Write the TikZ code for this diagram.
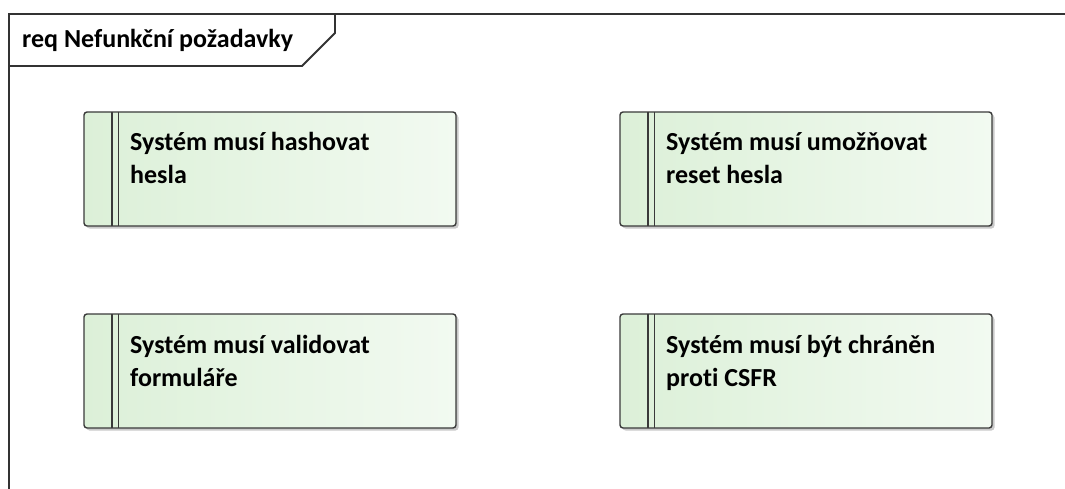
\documentclass[tikz,border=0pt]{standalone}
\usepackage{fontspec}
\setmainfont{Carlito}[Ligatures={NoCommon,NoRare,NoDiscretionary}]
\usetikzlibrary{shadows}
\definecolor{frameline}{HTML}{333333}
\definecolor{reqleft}{HTML}{DCF0D8}
\definecolor{reqright}{HTML}{F2FAF1}
\definecolor{reqline}{HTML}{3A3A3A}
\tikzset{
  reqbox/.style={draw=reqline, line width=1.4pt, rounded corners=3pt,
    left color=reqleft, right color=reqright,
    drop shadow={shadow xshift=2.5pt, shadow yshift=-2.5pt, opacity=0.35, fill=black!60}},
  reqbar/.style={draw=reqline, line width=1.3pt},
  reqtext/.style={anchor=base west, inner sep=0pt, font=\bfseries\fontsize{26}{33}\selectfont, text=black},
  frame/.style={draw=frameline, line width=1.8pt},
}
\begin{document}
\begin{tikzpicture}[x=1pt, y=-1pt]
\useasboundingbox (0,0) rectangle (1065,489);
% diagram frame and its name tab
\draw[frame] (1065,14) -- (9,14) -- (9,489);
\draw[frame] (9,66) -- (302,66) -- (335,33) -- (335,14);
\node[anchor=base west, inner sep=0pt, font=\bfseries\fontsize{26}{28}\selectfont] (title) at (22,48) {req Nefunkční požadavky};

% requirement elements
\foreach \name/\x/\y/\la/\lb in {
  hash/84/112/{Systém musí hashovat}/{hesla},
  reset/620/112/{Systém musí umožňovat}/{reset hesla},
  valid/84/314/{Systém musí validovat}/{formuláře},
  csfr/620/314/{Systém musí být chráněn}/{proti CSFR}}{
  \path[reqbox] (\x,\y) rectangle ++(372,114);
  \coordinate (\name) at (\x,\y);
  \draw[reqbar] ([xshift=28pt]\name) -- ++(0,114);
  \draw[reqbar] ([xshift=34.5pt]\name) -- ++(0,114);
  \node[reqtext] (\name-a) at ([xshift=46pt,yshift=-39pt]\name) {\la};
  \node[reqtext] (\name-b) at ([xshift=46pt,yshift=-72pt]\name) {\lb};
}
\end{tikzpicture}
\end{document}
